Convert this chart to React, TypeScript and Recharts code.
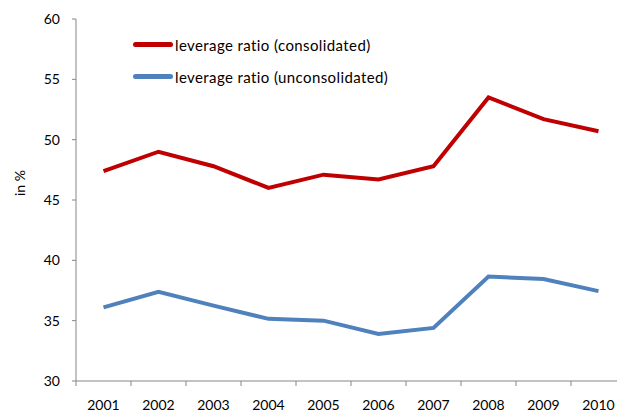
import { LineChart, Line, XAxis, YAxis, Legend } from 'recharts';

const YEARS = ['2001', '2002', '2003', '2004', '2005', '2006', '2007', '2008', '2009', '2010'];
const CONSOLIDATED = [47.4, 49.0, 47.8, 46.0, 47.1, 46.7, 47.8, 53.5, 51.7, 50.7];
const UNCONSOLIDATED = [36.1, 37.4, 36.25, 35.15, 35.0, 33.9, 34.4, 38.65, 38.45, 37.45];
const Y_TICKS = [30, 35, 40, 45, 50, 55, 60];

const data = YEARS.map((year, i) => ({
  year,
  consolidated: CONSOLIDATED[i],
  unconsolidated: UNCONSOLIDATED[i],
}));

const FONT = 'Lato, sans-serif';
const AXIS_GREY = '#868686';
const CHART_W = 626;
const PLOT_LEFT = 76;
const BAND = (CHART_W - PLOT_LEFT) / YEARS.length;

// Excel-style category tick: mark sits on the band boundary, label in the band centre
const YearTick = ({ x, y, payload, index }: any) => (
  <g>
    <line x1={x - BAND / 2} x2={x - BAND / 2} y1={y} y2={y + 5} stroke={AXIS_GREY} />
    {index === YEARS.length - 1 && (
      <line x1={x + BAND / 2} x2={x + BAND / 2} y1={y} y2={y + 5} stroke={AXIS_GREY} />
    )}
    <text x={x} y={y + 19} dy="0.71em" textAnchor="middle" style={{ fontFamily: FONT, fontSize: 14, fill: '#000' }}>
      {payload.value}
    </text>
  </g>
);

const LegendBox = ({ payload }: any) => (
  <div style={{ display: 'flex', flexDirection: 'column', gap: 13 }}>
    {(payload || []).map((entry: any) => (
      <div key={entry.dataKey} style={{ display: 'flex', alignItems: 'center', height: 19 }}>
        <div style={{ width: 40, height: 5, borderRadius: 3, background: entry.color, marginRight: 2 }} />
        <span style={{ fontFamily: FONT, fontSize: 15, letterSpacing: 0.4, color: '#000' }}>{entry.value}</span>
      </div>
    ))}
  </div>
);

const YLabel = ({ viewBox }: any) => {
  const x = viewBox.x + 19;
  const y = 183;
  return (
    <text x={x} y={y} transform={`rotate(-90 ${x} ${y})`} textAnchor="middle" dominantBaseline="central"
      style={{ fontFamily: FONT, fontSize: 14, fill: '#000' }}>
      in %
    </text>
  );
};

export default function App() {
  return (
    <div style={{ position: 'absolute', left: 0, top: 0, width: 617, height: 412, overflow: 'hidden', background: '#fff' }}>
      <LineChart width={CHART_W} height={412} data={data} margin={{ top: 19, right: 0, bottom: 0, left: 0 }}>
        <XAxis
          dataKey="year"
          scale="band"
          height={31}
          interval={0}
          stroke={AXIS_GREY}
          tickLine={false}
          tickSize={0}
          tickMargin={0}
          tick={<YearTick />}
        />
        <YAxis
          domain={[30, 60]}
          ticks={Y_TICKS}
          width={PLOT_LEFT}
          stroke={AXIS_GREY}
          tickSize={4}
          tickMargin={12}
          tick={{ fill: '#000', fontSize: 14, fontFamily: FONT }}
          label={<YLabel />}
        />
        <Legend
          layout="vertical"
          verticalAlign="middle"
          align="center"
          content={<LegendBox />}
          wrapperStyle={{ top: 35, left: 133, width: 340 }}
        />
        <Line
          dataKey="consolidated"
          name="leverage ratio (consolidated)"
          stroke="#C00000"
          strokeWidth={4}
          dot={false}
          isAnimationActive={false}
        />
        <Line
          dataKey="unconsolidated"
          name="leverage ratio (unconsolidated)"
          stroke="#4F81BD"
          strokeWidth={4}
          dot={false}
          isAnimationActive={false}
        />
      </LineChart>
    </div>
  );
}
